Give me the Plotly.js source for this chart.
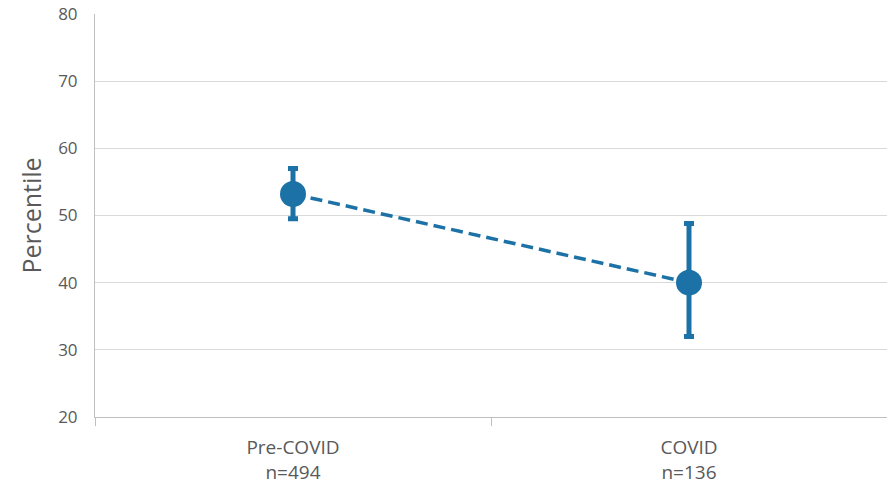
<!DOCTYPE html>
<html>
<head>
<meta charset="utf-8">
<script src="https://cdn.plot.ly/plotly-3.0.1.min.js"></script>
<style>html,body{margin:0;padding:0;background:#fff;}#chart{width:887px;height:487px;}</style>
</head>
<body>
<div id="chart"></div>
<script>
const categories = ["Pre-COVID<br>n=494", "COVID<br>n=136"];
const means = [53.2, 40.0];
const upperErr = [3.8, 8.8];
const lowerErr = [3.7, 8.0];
const yTicks = [20, 30, 40, 50, 60, 70, 80];

const color = "#1c72a6";
const trace = {
  x: categories,
  y: means,
  type: "scatter",
  mode: "lines+markers",
  line: {color: color, width: 3.5, dash: "12px,6px"},
  marker: {color: color, size: 26},
  error_y: {type: "data", symmetric: false, array: upperErr, arrayminus: lowerErr,
            color: color, thickness: 5, width: 5},
  showlegend: false,
  cliponaxis: false
};

const layout = {
  width: 887, height: 487,
  margin: {l: 95, r: 0, t: 14, b: 70},
  paper_bgcolor: "#fff", plot_bgcolor: "#fff",
  font: {family: "Open Sans, Calibri, sans-serif", color: "#595959"},
  xaxis: {
    type: "category",
    range: [-0.5, 1.5],
    showgrid: false,
    showline: true, linecolor: "#bfbfbf", linewidth: 1,
    ticks: "outside", tickson: "boundaries", ticklen: 8, tickcolor: "#bfbfbf",
    ticklabelstandoff: 13,
    tickfont: {size: 19, color: "#595959"},
    zeroline: false
  },
  yaxis: {
    range: [20, 80],
    tickvals: yTicks,
    showgrid: true, gridcolor: "#d9d9d9", gridwidth: 1,
    showline: true, linecolor: "#bfbfbf", linewidth: 1,
    zeroline: false,
    ticks: "", ticklabelstandoff: 13,
    tickfont: {size: 17, color: "#595959"},
    title: {text: "Percentile", font: {size: 25, color: "#595959"}, standoff: 9}
  }
};

Plotly.newPlot("chart", [trace], layout, {displayModeBar: false, staticPlot: true});
</script>
</body>
</html>
